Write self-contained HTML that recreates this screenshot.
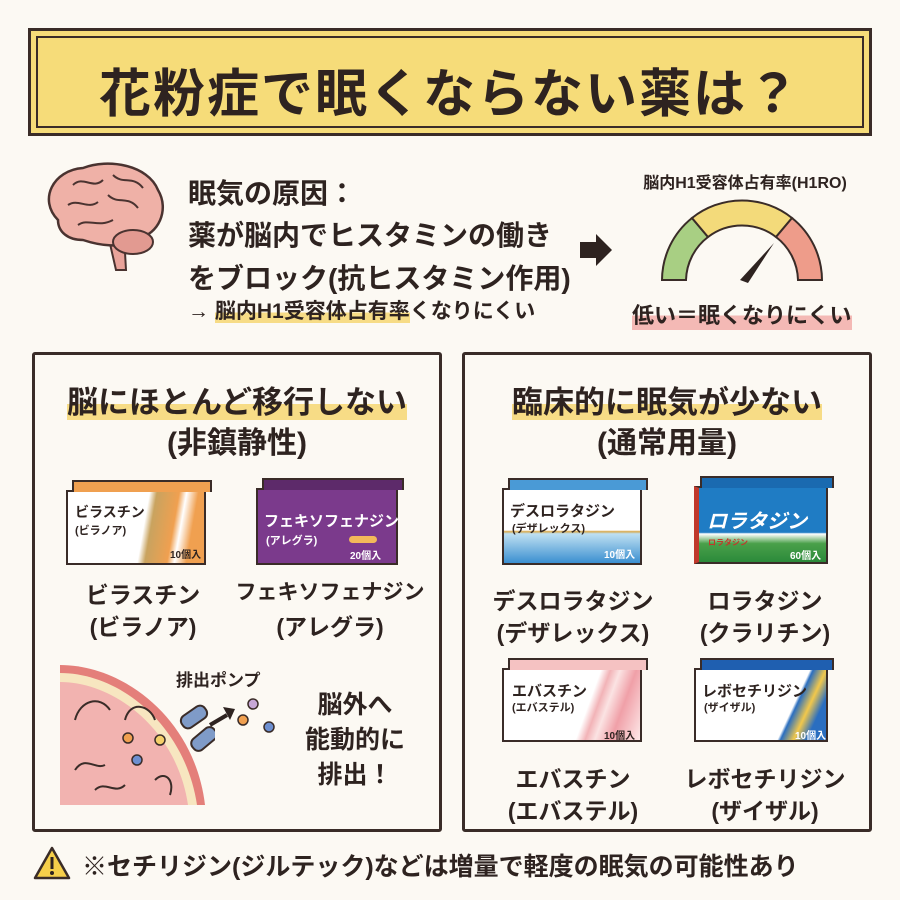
<!DOCTYPE html>
<html><head><meta charset="utf-8"><style>
*{margin:0;padding:0;box-sizing:border-box}
body{width:900px;height:900px;background:#fcf9f3;font-family:"Liberation Sans","Noto Sans CJK JP",sans-serif;color:#2e2320;position:relative;overflow:hidden}
.a{position:absolute;white-space:nowrap;font-weight:bold}
.c{text-align:center}
.panel{position:absolute;border:3px solid #3a2c28;border-radius:3px}
.box{position:absolute;border:2.5px solid #3a2c28}
.hl{background:linear-gradient(transparent 55%,#f7dc86 55%)}
</style></head><body>
<!-- title -->
<div style="position:absolute;left:28px;top:28px;width:844px;height:108px;border:3px solid #3a2c28;background:#f6dc79"></div>
<div style="position:absolute;left:36px;top:36px;width:828px;height:92px;border:2px solid #3a2c28"></div>
<div class="a c" style="left:0;width:900px;top:52px;font-size:52px;letter-spacing:2px">花粉症で眠くならない薬は？</div>

<!-- brain -->
<svg style="position:absolute;left:38px;top:160px" width="135" height="115" viewBox="0 0 135 115">
<path d="M70 75 L78 110 L88 110 L86 75Z" fill="#e9a39a" stroke="#4a3330" stroke-width="2"/>
<path d="M20 60 C0 40 15 10 45 8 C70 -2 110 5 120 30 C132 50 120 75 100 78 C85 90 60 85 45 80 C30 80 20 72 20 60Z" fill="#efb1a7" stroke="#4a3330" stroke-width="2.5"/>
<ellipse cx="95" cy="82" rx="20" ry="12" fill="#e29a91" stroke="#4a3330" stroke-width="2"/>
<path d="M35 25 C45 15 55 30 65 20 M75 15 C85 25 95 15 105 28 M30 45 C40 38 50 50 60 42 M70 35 C80 45 90 35 100 48 M40 65 C50 58 60 68 75 60" fill="none" stroke="#4a3330" stroke-width="2"/>
</svg>
<div class="a" style="left:188px;top:172px;font-size:28px">眠気の原因：</div>
<div class="a" style="left:188px;top:214px;font-size:28px">薬が脳内でヒスタミンの働き</div>
<div class="a" style="left:188px;top:257px;font-size:28px">をブロック(抗ヒスタミン作用)</div>
<div class="a" style="left:188px;top:295px;font-size:21px">→ <span class="hl">脳内H1受容体占有率</span>くなりにくい</div>
<svg style="position:absolute;left:578px;top:232px" width="36" height="36"><path d="M2 10 H18 V2 L34 18 L18 34 V26 H2Z" fill="#2e2320"/></svg>
<div class="a c" style="left:600px;width:290px;top:169px;font-size:16px">脳内H1受容体占有率(H1RO)</div>
<svg style="position:absolute;left:652px;top:195px" width="180" height="95" viewBox="0 0 180 95">
<path d="M10 85 A80 80 0 0 1 40 23 L56 42 A56 56 0 0 0 34 85Z" fill="#a8cf83" stroke="#3a2c28" stroke-width="2"/>
<path d="M40 23 A80 80 0 0 1 140 23 L124 42 A56 56 0 0 0 56 42Z" fill="#f3da7a" stroke="#3a2c28" stroke-width="2"/>
<path d="M140 23 A80 80 0 0 1 170 85 L146 85 A56 56 0 0 0 124 42Z" fill="#ee9c8a" stroke="#3a2c28" stroke-width="2"/>
<path d="M88 85 L122 48 L96 88Z" fill="#2e2320"/>
</svg>
<div class="a" style="left:632px;top:298px;font-size:22px;background:linear-gradient(transparent 55%,#f4b9b5 55%)">低い＝眠くなりにくい</div>

<!-- panels -->
<div class="panel" style="left:32px;top:352px;width:410px;height:480px"></div>
<div class="panel" style="left:462px;top:352px;width:410px;height:480px"></div>
<div class="a c" style="left:32px;width:410px;top:377px;font-size:31px"><span class="hl">脳にほとんど移行しない</span></div>
<div class="a c" style="left:32px;width:410px;top:418px;font-size:30px">(非鎮静性)</div>
<div class="a c" style="left:462px;width:410px;top:377px;font-size:31px"><span class="hl">臨床的に眠気が少ない</span></div>
<div class="a c" style="left:462px;width:410px;top:418px;font-size:30px">(通常用量)</div>

<!-- left boxes -->
<div class="box" style="left:66px;top:490px;width:140px;height:75px;background:linear-gradient(100deg,#fff 55%,#c9a35f 60%,#f0a050 75%,#fff 80%,#f0a050 88%)"></div>
<div class="box" style="left:72px;top:480px;width:140px;height:12px;background:#f0a050;border-bottom:none"></div>
<div class="a" style="left:75px;top:502px;font-size:14px">ビラスチン</div>
<div class="a" style="left:75px;top:522px;font-size:11px">(ビラノア)</div>
<div class="a" style="left:170px;top:546px;font-size:10px">10個入</div>
<div class="box" style="left:256px;top:488px;width:142px;height:77px;background:#7b3a8c"></div>
<div class="box" style="left:262px;top:478px;width:142px;height:12px;background:#5d2a6a;border-bottom:none"></div>
<div class="a" style="left:264px;top:510px;font-size:15px;color:#fff">フェキソフェナジン</div>
<div class="a" style="left:266px;top:532px;font-size:11px;color:#fff">(アレグラ)</div>
<div style="position:absolute;left:349px;top:536px;width:28px;height:7px;border-radius:4px;background:#f2b95a"></div>
<div class="a" style="left:350px;top:547px;font-size:10px;color:#fff">20個入</div>
<div class="a c" style="left:58px;width:170px;top:576px;font-size:23px">ビラスチン</div>
<div class="a c" style="left:58px;width:170px;top:608px;font-size:23px">(ビラノア)</div>
<div class="a c" style="left:230px;width:200px;top:576px;font-size:21px">フェキソフェナジン</div>
<div class="a c" style="left:230px;width:200px;top:608px;font-size:23px">(アレグラ)</div>

<!-- pump illustration -->
<svg style="position:absolute;left:55px;top:660px" width="160" height="150" viewBox="0 0 160 150">
<path d="M5 5 C70 5 140 60 150 145 L5 145Z" fill="#e47f7a"/>
<path d="M5 13 C65 13 130 65 142 145 L5 145Z" fill="#f7e6c0"/>
<path d="M5 22 C60 22 122 70 133 145 L5 145Z" fill="#f2b3b0"/>
<g fill="none" stroke="#3a2c28" stroke-width="2"><path d="M20 60 C25 40 45 35 55 50 M70 60 C75 40 95 45 100 60 M20 110 C30 95 40 110 50 105 M100 120 C110 110 120 120 115 135 M40 130 C50 120 60 135 70 125"/></g>
<rect x="125" y="50" width="28" height="14" rx="6" fill="#7f9bc8" stroke="#3a2c28" stroke-width="2" transform="rotate(-35 139 57)"/>
<rect x="135" y="72" width="28" height="14" rx="6" fill="#7f9bc8" stroke="#3a2c28" stroke-width="2" transform="rotate(-40 149 79)"/>
<circle cx="73" cy="78" r="5" fill="#f0a050" stroke="#3a2c28" stroke-width="1.5"/>
<circle cx="105" cy="80" r="5" fill="#f4cf6a" stroke="#3a2c28" stroke-width="1.5"/>
<circle cx="82" cy="100" r="5" fill="#6d8fd0" stroke="#3a2c28" stroke-width="1.5"/>
</svg>
<svg style="position:absolute;left:205px;top:695px" width="80" height="50"><path d="M5 30 L22 20" stroke="#2e2320" stroke-width="4"/><path d="M18 12 L30 14 L25 25Z" fill="#2e2320"/>
<circle cx="48" cy="9" r="5" fill="#c7a7d6" stroke="#3a2c28" stroke-width="1.5"/><circle cx="38" cy="25" r="5" fill="#f0a050" stroke="#3a2c28" stroke-width="1.5"/><circle cx="64" cy="32" r="5" fill="#6d8fd0" stroke="#3a2c28" stroke-width="1.5"/></svg>
<div class="a" style="left:176px;top:666px;font-size:17px">排出ポンプ</div>
<div class="a c" style="left:290px;width:130px;top:688px;font-size:25px;line-height:35px">脳外へ<br>能動的に<br>排出！</div>

<!-- right boxes -->
<div class="box" style="left:502px;top:488px;width:140px;height:77px;background:linear-gradient(180deg,#fff 55%,#d7a84a 57%,#bfe0f2 60%,#3b8fd0 100%)"></div>
<div class="box" style="left:508px;top:478px;width:140px;height:12px;background:#4a9ad6;border-bottom:none"></div>
<div class="a" style="left:510px;top:500px;font-size:15px">デスロラタジン</div>
<div class="a" style="left:512px;top:520px;font-size:11px">(デザレックス)</div>
<div class="a" style="left:604px;top:546px;font-size:10px;color:#fff">10個入</div>
<div class="box" style="left:694px;top:486px;width:134px;height:78px;background:linear-gradient(180deg,#1f7cc4 60%,#fff 62%,#4aa04a 75%,#2b8a3a 100%);border-left:5px solid #c0392b"></div>
<div class="box" style="left:700px;top:476px;width:134px;height:12px;background:#1a6ab0;border-bottom:none"></div>
<div class="a" style="left:707px;top:505px;font-size:20px;color:#fff;font-style:italic">ロラタジン</div>
<div class="a" style="left:708px;top:537px;font-size:8px;color:#c0392b">ロラタジン</div>
<div class="a" style="left:790px;top:547px;font-size:10px;color:#fff">60個入</div>
<div class="a c" style="left:478px;width:190px;top:582px;font-size:23px">デスロラタジン</div>
<div class="a c" style="left:478px;width:190px;top:614px;font-size:23px">(デザレックス)</div>
<div class="a c" style="left:670px;width:190px;top:582px;font-size:23px">ロラタジン</div>
<div class="a c" style="left:670px;width:190px;top:614px;font-size:23px">(クラリチン)</div>

<div class="box" style="left:502px;top:668px;width:140px;height:74px;background:linear-gradient(110deg,#fff 60%,#f2b3b7 66%,#fbe3e3 72%,#f0a0a8 82%,#fde8e8 100%)"></div>
<div class="box" style="left:508px;top:658px;width:140px;height:12px;background:#f5c2c2;border-bottom:none"></div>
<div class="a" style="left:512px;top:680px;font-size:15px">エバスチン</div>
<div class="a" style="left:512px;top:699px;font-size:11px">(エバステル)</div>
<div class="a" style="left:604px;top:727px;font-size:10px">10個入</div>
<div class="box" style="left:694px;top:668px;width:134px;height:74px;background:linear-gradient(115deg,#fff 70%,#2a6ec0 72%,#f2c84b 80%,#2a6ec0 88%)"></div>
<div class="box" style="left:700px;top:658px;width:134px;height:12px;background:#1f5fb0;border-bottom:none"></div>
<div class="a" style="left:702px;top:680px;font-size:15px">レボセチリジン</div>
<div class="a" style="left:704px;top:699px;font-size:11px">(ザイザル)</div>
<div class="a" style="left:795px;top:727px;font-size:10px;color:#fff">10個入</div>
<div class="a c" style="left:478px;width:190px;top:760px;font-size:23px">エバスチン</div>
<div class="a c" style="left:478px;width:190px;top:792px;font-size:23px">(エバステル)</div>
<div class="a c" style="left:670px;width:190px;top:760px;font-size:23px">レボセチリジン</div>
<div class="a c" style="left:670px;width:190px;top:792px;font-size:23px">(ザイザル)</div>

<!-- warning -->
<svg style="position:absolute;left:32px;top:845px" width="40" height="36"><path d="M20 3 L37 33 H3Z" fill="#f6cf4a" stroke="#3a2c28" stroke-width="2.5" stroke-linejoin="round"/><rect x="18.5" y="12" width="3" height="12" fill="#2e2320"/><circle cx="20" cy="28" r="2" fill="#2e2320"/></svg>
<div class="a" style="left:82px;top:847px;font-size:25px">※セチリジン(ジルテック)などは増量で軽度の眠気の可能性あり</div>
</body></html>
